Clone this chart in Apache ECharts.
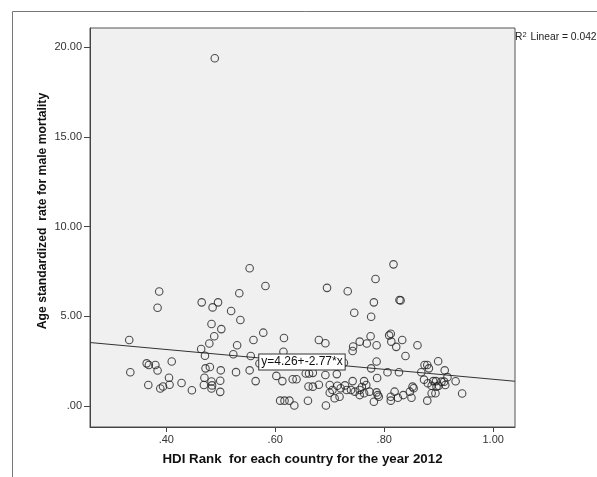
<!DOCTYPE html>
<html>
<head>
<meta charset="utf-8">
<script src="https://cdn.jsdelivr.net/npm/echarts@6/dist/echarts.min.js"></script>
<style>
  html, body { margin: 0; padding: 0; background: #fff; }
  #chart { width: 597px; height: 477px; }
</style>
</head>
<body>
<div id="chart"></div>
<script>
// HDI rank (x) and age standardized male mortality rate (y), one entry per country
const hdiRank = [
  0.332, 0.334, 0.364, 0.368, 0.380, 0.384, 0.410, 0.367, 0.389, 0.394, 0.405, 0.406, 0.428, 0.387, 0.384, 0.447,
  0.553, 0.582, 0.534, 0.465, 0.485, 0.495, 0.519, 0.536, 0.483, 0.501, 0.578, 0.488, 0.479, 0.530, 0.560, 0.616,
  0.464, 0.471, 0.523, 0.555, 0.571, 0.472, 0.480, 0.500, 0.528, 0.553, 0.470, 0.499, 0.564, 0.602, 0.469, 0.483,
  0.484, 0.483, 0.499, 0.613, 0.609, 0.617, 0.615,
  0.626, 0.635, 0.660, 0.693, 0.695, 0.733, 0.784, 0.781, 0.745, 0.776, 0.680, 0.692, 0.743, 0.742, 0.755, 0.768,
  0.775, 0.786, 0.726, 0.713, 0.776, 0.786, 0.632, 0.639, 0.656, 0.662, 0.669, 0.692, 0.661, 0.669, 0.680, 0.700,
  0.742, 0.763, 0.767, 0.787, 0.714, 0.720, 0.728, 0.731, 0.700, 0.705, 0.739, 0.746, 0.755, 0.759, 0.773, 0.786,
  0.709, 0.718, 0.755, 0.763, 0.781, 0.790,
  0.817, 0.828, 0.830, 0.809, 0.812, 0.813, 0.822, 0.833, 0.861, 0.839, 0.806, 0.827, 0.874, 0.879, 0.882, 0.899,
  0.911, 0.868, 0.916, 0.873, 0.890, 0.895, 0.905, 0.910, 0.931, 0.880, 0.887, 0.896, 0.900, 0.912, 0.852, 0.854,
  0.847, 0.819, 0.835, 0.812, 0.825, 0.850, 0.887, 0.894, 0.879, 0.943, 0.812, 0.788,
  0.489
];
const maleMortality = [
  3.68, 1.88, 2.38, 2.29, 2.29, 1.98, 2.48, 1.17, 0.98, 1.09, 1.58, 1.19, 1.28, 6.39, 5.48, 0.88,
  7.68, 6.69, 6.29, 5.78, 5.50, 5.78, 5.30, 4.80, 4.57, 4.29, 4.09, 3.89, 3.49, 3.39, 3.68, 3.79,
  3.18, 2.80, 2.89, 2.79, 2.37, 2.10, 2.18, 1.99, 1.89, 1.99, 1.58, 1.41, 1.39, 1.68, 1.17, 1.37,
  1.15, 0.98, 0.79, 1.39, 0.30, 0.30, 3.03,
  0.30, 0.03, 0.29, 0.03, 6.59, 6.40, 7.08, 5.78, 5.20, 4.98, 3.68, 3.50, 3.32, 3.07, 3.59, 3.49,
  3.89, 3.39, 2.41, 1.78, 2.10, 2.48, 1.49, 1.49, 1.81, 1.81, 1.85, 1.73, 1.09, 1.08, 1.19, 1.17,
  1.39, 1.39, 1.17, 1.56, 1.13, 0.99, 1.15, 0.89, 0.74, 0.89, 0.89, 0.80, 0.89, 1.06, 0.80, 0.76,
  0.43, 0.52, 0.61, 0.71, 0.24, 0.52,
  7.90, 5.91, 5.89, 3.94, 4.03, 3.59, 3.30, 3.68, 3.39, 2.79, 1.88, 1.88, 2.29, 2.29, 2.10, 2.50,
  1.99, 1.88, 1.61, 1.47, 1.39, 1.39, 1.36, 1.36, 1.38, 1.27, 1.13, 1.08, 1.13, 1.17, 1.08, 0.99,
  0.80, 0.80, 0.61, 0.52, 0.46, 0.46, 0.71, 0.71, 0.30, 0.70, 0.30, 0.61,
  19.39
];

// fit line end points (y = 4.26 - 2.77x) across the axis range
const fitX = [0.26, 1.04];
const fitY = [3.54, 1.38];

const xTicks = [0.4, 0.6, 0.8, 1.0];
const yTicks = [0, 5, 10, 15, 20];

const fmt = v => v.toFixed(2).replace(/^0/, '');

const chart = echarts.init(document.getElementById('chart'));

const points = hdiRank.map((x, i) => [x, maleMortality[i]]);
const fitLine = fitX.map((x, i) => [x, fitY[i]]);

const option = {
  animation: false,
  textStyle: { fontFamily: 'Liberation Sans, Arial, sans-serif' },
  grid: {
    left: 90, top: 28, right: 82, bottom: 50,
    show: true,
    backgroundColor: '#f0f0f0',
    borderColor: '#555',
    borderWidth: 1
  },
  xAxis: {
    type: 'value',
    min: 0.26, max: 1.04,
    name: 'HDI Rank  for each country for the year 2012',
    nameLocation: 'middle',
    nameGap: 26,
    nameTextStyle: { fontSize: 13.3, fontWeight: 'bold', color: '#111' },
    axisLine: { show: true, onZero: false, lineStyle: { color: '#444' } },
    axisTick: { show: true, length: 5, customValues: xTicks, lineStyle: { color: '#444' } },
    axisLabel: { customValues: xTicks, formatter: fmt, fontSize: 11, color: '#333', margin: 7 },
    splitLine: { show: false }
  },
  yAxis: {
    type: 'value',
    min: -1.17, max: 21.08,
    axisLine: { show: true, onZero: false, lineStyle: { color: '#444' } },
    axisTick: { show: true, length: 6, customValues: yTicks, lineStyle: { color: '#444' } },
    axisLabel: { customValues: yTicks, formatter: fmt, fontSize: 11, color: '#333', margin: 8 },
    splitLine: { show: false }
  },
  graphic: [
    {
      type: 'polyline',
      shape: { points: [[12.5, 490], [12.5, 11.5], [600, 11.5]] },
      style: { stroke: '#777', lineWidth: 1, fill: null },
      silent: true
    },
    {
      type: 'text',
      x: 43, y: 211,
      rotation: Math.PI / 2,
      style: {
        text: 'Age standardized  rate for male mortality',
        font: 'bold 12.2px Liberation Sans, Arial, sans-serif',
        fill: '#111',
        align: 'center',
        verticalAlign: 'middle'
      }
    },
    {
      type: 'text',
      x: 515, y: 31,
      style: {
        text: 'R{sup|2} Linear = 0.042',
        fill: '#222',
        fontSize: 10.3,
        fontFamily: 'Liberation Sans, Arial, sans-serif',
        rich: {
          sup: { fontSize: 7.5, padding: [0, 1, 5, 0], fill: '#222' }
        }
      }
    }
  ],
  series: [
    {
      type: 'line',
      data: fitLine,
      symbol: 'none',
      lineStyle: { color: '#333', width: 1 },
      z: 2,
      markPoint: {
        symbol: 'rect',
        symbolSize: 0,
        data: [{ coord: [0.649, 2.45] }],
        label: {
          show: true,
          formatter: 'y=4.26+-2.77*x',
          fontSize: 12,
          color: '#111',
          backgroundColor: '#fff',
          borderColor: '#333',
          borderWidth: 1,
          padding: [2, 2, 1, 2],
          position: 'inside'
        }
      }
    },
    {
      type: 'scatter',
      data: points,
      symbol: 'circle',
      symbolSize: 7.5,
      itemStyle: { color: 'rgba(0,0,0,0)', borderColor: '#222', borderWidth: 1.1 },
      z: 3
    }
  ]
};

chart.setOption(option);
</script>
</body>
</html>
